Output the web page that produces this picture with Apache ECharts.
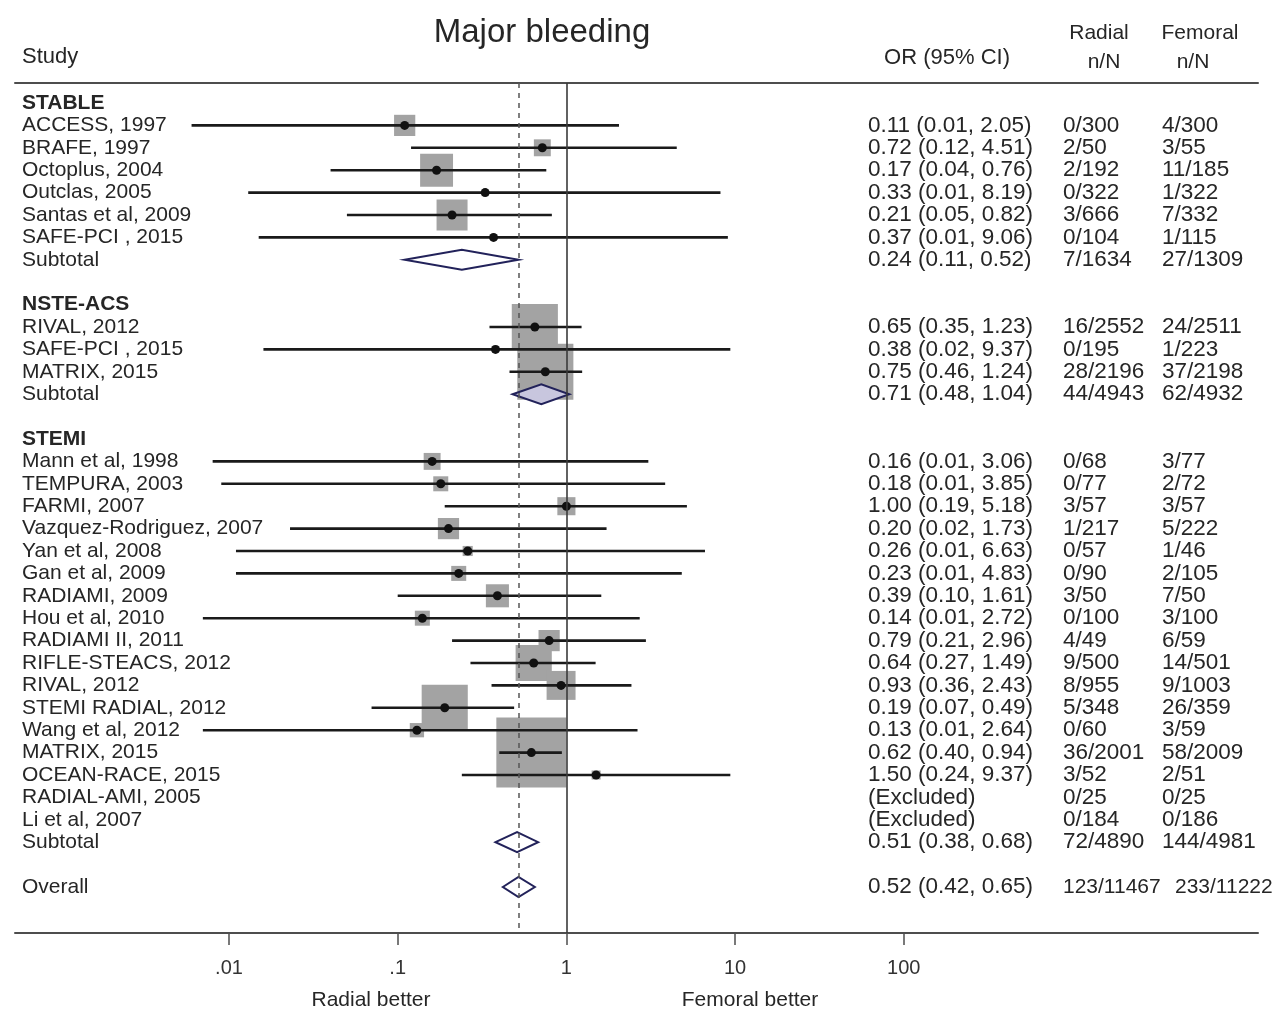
<!DOCTYPE html>
<html>
<head>
<meta charset="utf-8">
<title>Major bleeding</title>
<script src="https://cdn.jsdelivr.net/npm/echarts@6/dist/echarts.min.js"></script>
<style>
  html, body { margin: 0; padding: 0; background: #fff; }
  #chart { width: 1273px; height: 1011px; }
</style>
</head>
<body>
<div id="chart"></div>
<script>
// ---- Data -----------------------------------------------------------
const groupNames = ['STABLE', 'NSTE-ACS', 'STEMI'];

const studyNames = [
  'ACCESS, 1997', 'BRAFE, 1997', 'Octoplus, 2004', 'Outclas, 2005', 'Santas et al, 2009', 'SAFE-PCI , 2015',
  'RIVAL, 2012', 'SAFE-PCI , 2015', 'MATRIX, 2015',
  'Mann et al, 1998', 'TEMPURA, 2003', 'FARMI, 2007', 'Vazquez-Rodriguez, 2007', 'Yan et al, 2008',
  'Gan et al, 2009', 'RADIAMI, 2009', 'Hou et al, 2010', 'RADIAMI II, 2011', 'RIFLE-STEACS, 2012',
  'RIVAL, 2012', 'STEMI RADIAL, 2012', 'Wang et al, 2012', 'MATRIX, 2015', 'OCEAN-RACE, 2015',
  'RADIAL-AMI, 2005', 'Li et al, 2007'
];
const studyGroup = [0, 0, 0, 0, 0, 0, 1, 1, 1, 2, 2, 2, 2, 2, 2, 2, 2, 2, 2, 2, 2, 2, 2, 2, 2, 2];
const studyOR = [0.11, 0.72, 0.17, 0.33, 0.21, 0.37, 0.65, 0.38, 0.75,
  0.16, 0.18, 1.00, 0.20, 0.26, 0.23, 0.39, 0.14, 0.79, 0.64, 0.93, 0.19, 0.13, 0.62, 1.50, null, null];
const studyLower = [0.006, 0.12, 0.04, 0.013, 0.05, 0.015, 0.35, 0.016, 0.46,
  0.008, 0.009, 0.19, 0.023, 0.011, 0.011, 0.10, 0.007, 0.21, 0.27, 0.36, 0.07, 0.007, 0.40, 0.24, null, null];
const studyUpper = [2.05, 4.51, 0.76, 8.19, 0.82, 9.06, 1.23, 9.37, 1.24,
  3.06, 3.85, 5.18, 1.73, 6.63, 4.83, 1.61, 2.72, 2.96, 1.49, 2.43, 0.49, 2.64, 0.94, 9.37, null, null];
// study weights (%)
const studyWeight = [2.2, 1.4, 5.3, 0.25, 4.7, 0.2, 10.4, 0.25, 15.4,
  1.4, 1.1, 1.6, 2.2, 0.5, 1.1, 2.6, 1.1, 2.2, 6.4, 4.1, 10.4, 1.0, 24.0, 0.4, 0, 0];
const radialEvents = ['0/300', '2/50', '2/192', '0/322', '3/666', '0/104', '16/2552', '0/195', '28/2196',
  '0/68', '0/77', '3/57', '1/217', '0/57', '0/90', '3/50', '0/100', '4/49', '9/500', '8/955', '5/348',
  '0/60', '36/2001', '3/52', '0/25', '0/184'];
const femoralEvents = ['4/300', '3/55', '11/185', '1/322', '7/332', '1/115', '24/2511', '1/223', '37/2198',
  '3/77', '2/72', '3/57', '5/222', '1/46', '2/105', '7/50', '3/100', '6/59', '14/501', '9/1003', '26/359',
  '3/59', '58/2009', '2/51', '0/25', '0/186'];

const subtotalOR = [0.24, 0.71, 0.51];
const subtotalLower = [0.11, 0.48, 0.38];
const subtotalUpper = [0.52, 1.04, 0.68];
const subtotalRadial = ['7/1634', '44/4943', '72/4890'];
const subtotalFemoral = ['27/1309', '62/4932', '144/4981'];

const overallOR = 0.52;
const overallLower = 0.42;
const overallUpper = 0.65;
const overallRadial = '123/11467';
const overallFemoral = '233/11222';

const tickValues = [0.01, 0.1, 1, 10, 100];
const tickLabels = ['.01', '.1', '1', '10', '100'];

// ---- Layout / style -------------------------------------------------
const FONT = '"Liberation Sans", Arial, Helvetica, sans-serif';
const TEXT_COLOR = '#262626';
const X_MIN = -3.2685, X_MAX = 4.0996;   // log10 extent of the plot band
const Y_MIN = -0.893, Y_MAX = 37.054;    // row extent (inverted)
const BOX_SCALE = 14.3;                  // px per sqrt(weight %)
const DIAMOND_HALF = 10;
const DIAMOND_FILL = { 'NSTE-ACS': '#c8c6de' };
const COL = { study: 22, or: 868, radial: 1063, femoral: 1162, overallFemoral: 1175 };
const NUM_SIZE = 22.5, OVERALL_NUM_SIZE = 21;

const lg = Math.log10;

// ---- Row table ------------------------------------------------------
const rows = [];
groupNames.forEach((g, gi) => {
  rows.push({ kind: 'header', label: g, group: g });
  studyNames.forEach((name, i) => {
    if (studyGroup[i] !== gi) return;
    rows.push({ kind: 'study', label: name, group: g, or: studyOR[i], lo: studyLower[i], hi: studyUpper[i],
      w: studyWeight[i], rad: radialEvents[i], fem: femoralEvents[i] });
  });
  rows.push({ kind: 'subtotal', label: 'Subtotal', group: g, or: subtotalOR[gi], lo: subtotalLower[gi],
    hi: subtotalUpper[gi], rad: subtotalRadial[gi], fem: subtotalFemoral[gi] });
  rows.push({ kind: 'blank' });
});
rows.push({ kind: 'overall', label: 'Overall', group: 'Overall', or: overallOR, lo: overallLower,
  hi: overallUpper, rad: overallRadial, fem: overallFemoral });

const studyRows = rows.map((r, i) => ({ r, i })).filter(o => o.r.kind === 'study' && o.r.or != null);
const pooledRows = rows.map((r, i) => ({ r, i })).filter(o => o.r.kind === 'subtotal' || o.r.kind === 'overall');

function ciText(r) {
  if (r.or == null) return '(Excluded)';
  return r.or.toFixed(2) + ' (' + r.lo.toFixed(2) + ', ' + r.hi.toFixed(2) + ')';
}

function textEl(x, y, text, size, bold) {
  return {
    type: 'text', x: x, y: y,
    style: { text: text, fill: TEXT_COLOR, fontSize: size, fontFamily: FONT,
      fontWeight: bold ? 'bold' : 'normal', align: 'left', verticalAlign: 'middle' }
  };
}

function headText(x, y, text, size, align) {
  return { type: 'text', x: x, y: y,
    style: { text: text, fontSize: size, fontFamily: FONT, fill: TEXT_COLOR, align: align, verticalAlign: 'middle' } };
}

// ---- Chart ----------------------------------------------------------
const chart = echarts.init(document.getElementById('chart'), null, { renderer: 'canvas' });

const axisLineStyle = { color: '#4d4d4d', width: 2 };

chart.setOption({
  animation: false,
  backgroundColor: '#ffffff',
  grid: { left: 15, right: 15, top: 83, bottom: 78, containLabel: false, outerBoundsMode: 'none' },
  xAxis: [
    {
      type: 'value', min: X_MIN, max: X_MAX, position: 'bottom',
      axisLine: { show: true, onZero: false, lineStyle: axisLineStyle },
      axisTick: { show: true, customValues: tickValues.map(lg), length: 12, lineStyle: { color: '#4d4d4d', width: 1.5 } },
      axisLabel: {
        show: true, customValues: tickValues.map(lg), margin: 25, fontSize: 20, fontFamily: FONT, color: '#333',
        formatter: v => {
          let k = 0;
          tickValues.forEach((t, i) => { if (Math.abs(lg(t) - v) < Math.abs(lg(tickValues[k]) - v)) k = i; });
          return tickLabels[k];
        }
      },
      splitLine: { show: false }
    },
    {
      type: 'value', min: X_MIN, max: X_MAX, position: 'top',
      axisLine: { show: true, onZero: false, lineStyle: axisLineStyle },
      axisTick: { show: false }, axisLabel: { show: false }, splitLine: { show: false }
    }
  ],
  yAxis: { type: 'value', inverse: true, min: Y_MIN, max: Y_MAX, show: false },
  graphic: [
    Object.assign(headText(542, 33, 'Major bleeding', 33, 'center'), {}),
    headText(22, 57, 'Study', 22, 'left'),
    headText(947, 58, 'OR (95% CI)', 22, 'center'),
    headText(1099, 33, 'Radial', 21, 'center'),
    headText(1104, 62, 'n/N', 21, 'center'),
    headText(1200, 33, 'Femoral', 21, 'center'),
    headText(1193, 62, 'n/N', 21, 'center'),
    headText(371, 1000, 'Radial better', 21, 'center'),
    headText(750, 1000, 'Femoral better', 21, 'center')
  ],
  series: [
    // null line and pooled-estimate reference line
    {
      name: 'reference', type: 'scatter', data: [], z: 1, silent: true,
      markLine: {
        silent: true, symbol: ['none', 'none'], label: { show: false }, animation: false,
        data: [
          { xAxis: lg(1), lineStyle: { color: '#3a3a3a', width: 1.6, type: 'solid' } },
          { xAxis: lg(overallOR), lineStyle: { color: '#555', width: 1.5, type: [5, 5] } }
        ]
      }
    },
    // weight boxes
    {
      name: 'weight', type: 'scatter', z: 2, silent: true, symbol: 'rect',
      data: studyRows.map(o => [lg(o.r.or), o.i, o.r.w]),
      symbolSize: v => BOX_SCALE * Math.sqrt(v[2]),
      itemStyle: { color: '#a3a3a3', opacity: 1 }
    },
    // confidence intervals
    {
      name: 'ci', type: 'custom', z: 3, silent: true, clip: false,
      data: studyRows.map(o => [lg(o.r.lo), lg(o.r.hi), o.i]),
      encode: { x: [0, 1], y: 2 },
      renderItem: (params, api) => {
        const a = api.coord([api.value(0), api.value(2)]);
        const b = api.coord([api.value(1), api.value(2)]);
        return { type: 'line', shape: { x1: a[0], y1: a[1], x2: b[0], y2: b[1] },
          style: { stroke: '#1a1a1a', lineWidth: 2.6 } };
      }
    },
    // point estimates
    {
      name: 'or', type: 'scatter', z: 4, silent: true, symbol: 'circle', symbolSize: 9,
      data: studyRows.map(o => [lg(o.r.or), o.i]),
      itemStyle: { color: '#111', opacity: 1 }
    },
    // pooled diamonds
    {
      name: 'pooled', type: 'custom', z: 4, silent: true, clip: false,
      data: pooledRows.map(o => [lg(o.r.lo), lg(o.r.or), lg(o.r.hi), o.i]),
      encode: { x: [0, 1, 2], y: 3 },
      renderItem: (params, api) => {
        const row = api.value(3);
        const l = api.coord([api.value(0), row]);
        const m = api.coord([api.value(1), row]);
        const r = api.coord([api.value(2), row]);
        const grp = rows[row].group;
        return {
          type: 'polygon',
          shape: { points: [l, [m[0], m[1] - DIAMOND_HALF], r, [m[0], m[1] + DIAMOND_HALF]] },
          style: { fill: DIAMOND_FILL[grp] || '#ffffff', stroke: '#22225a', lineWidth: 2, lineJoin: 'miter' }
        };
      }
    },
    // table text: study labels, OR (95% CI), radial n/N, femoral n/N
    {
      name: 'table', type: 'custom', z: 5, silent: true, clip: false,
      data: rows.map((r, i) => [0, i]),
      encode: { x: 0, y: 1 },
      renderItem: (params, api) => {
        const r = rows[params.dataIndex];
        const y = api.coord([0, api.value(1)])[1];
        const children = [];
        if (r.label) children.push(textEl(COL.study, y, r.label, 21, r.kind === 'header'));
        if (r.kind === 'study' || r.kind === 'subtotal' || r.kind === 'overall') {
          const isAll = r.kind === 'overall';
          const size = isAll ? OVERALL_NUM_SIZE : NUM_SIZE;
          children.push(textEl(COL.or, y, ciText(r), NUM_SIZE, false));
          children.push(textEl(COL.radial, y, r.rad, size, false));
          children.push(textEl(isAll ? COL.overallFemoral : COL.femoral, y, r.fem, size, false));
        }
        return { type: 'group', children: children };
      }
    }
  ]
});
</script>
</body>
</html>
